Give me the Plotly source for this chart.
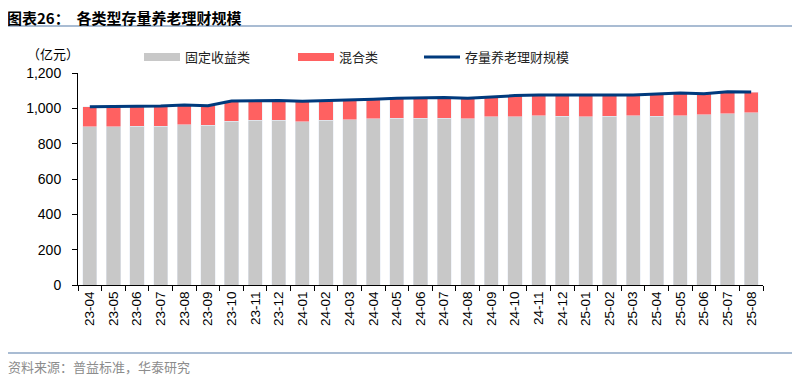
import plotly.graph_objects as go

categories = ["23-04","23-05","23-06","23-07","23-08","23-09","23-10","23-11","23-12",
              "24-01","24-02","24-03","24-04","24-05","24-06","24-07","24-08","24-09",
              "24-10","24-11","24-12","25-01","25-02","25-03","25-04","25-05","25-06",
              "25-07","25-08"]
fixed_income = [896, 896, 898, 900, 906, 904, 928, 932, 932, 925, 932, 934, 940, 945, 945,
                945, 941, 951, 953, 957, 955, 953, 955, 957, 955, 958, 964, 968, 974]
total_scale = [1009, 1009, 1011, 1013, 1019, 1015, 1042, 1045, 1045, 1040, 1043, 1047, 1051, 1057, 1060,
               1062, 1057, 1066, 1072, 1075, 1075, 1075, 1075, 1075, 1081, 1087, 1083, 1094, 1092]
mixed = [t - f for t, f in zip(total_scale, fixed_income)]

GREY = "#C8C8C8"
RED = "#FF6161"
NAVY = "#003A7D"
FONT = "Liberation Sans, Arial, sans-serif"
CJK = "Noto Sans CJK SC, sans-serif"

fig = go.Figure()
fig.add_trace(go.Bar(x=categories, y=fixed_income, marker_color=GREY, name="固定收益类", showlegend=False))
fig.add_trace(go.Bar(x=categories, y=mixed, marker_color=RED, name="混合类", showlegend=False))
fig.add_trace(go.Scatter(x=categories, y=total_scale, mode="lines", line=dict(color=NAVY, width=3),
                         name="存量养老理财规模", showlegend=False))

# legend-only entries
fig.add_trace(go.Scatter(x=[categories[0]], y=[None], mode="lines", line=dict(color=GREY, width=8),
                         name="固定收益类", legend="legend"))
fig.add_trace(go.Scatter(x=[categories[0]], y=[None], mode="lines", line=dict(color=RED, width=8),
                         name="混合类", legend="legend2"))
fig.add_trace(go.Scatter(x=[categories[0]], y=[None], mode="lines", line=dict(color=NAVY, width=3),
                         name="存量养老理财规模", legend="legend3"))

OFF = 8  # page body margin offset
W, H = 800 - OFF, 378 - OFF
# plot area in screen coordinates
PL, PR, PT, PB = 78, 763, 73, 285
L = PL - OFF
T = PT - OFF
R = W - (PR - OFF)
B = H - (PB - OFF)
pw = PR - PL
ph = PB - PT

def px_x(p):
    return (p - PL) / pw

def px_y(p):
    return (PB - p) / ph

leg_common = dict(orientation="h", xanchor="left", yanchor="middle", bgcolor="rgba(0,0,0,0)",
                  itemwidth=36, font=dict(family=CJK, size=13, color="#222"))

fig.update_layout(
    width=W, height=H,
    margin=dict(l=L, r=R, t=T, b=B),
    plot_bgcolor="white", paper_bgcolor="white",
    barmode="stack", bargap=0.4,
    font=dict(family=FONT, size=13, color="#000"),
    legend=dict(x=px_x(139), y=px_y(57), **leg_common),
    legend2=dict(x=px_x(293), y=px_y(57), **leg_common),
    legend3=dict(x=px_x(419), y=px_y(57), **leg_common),
    xaxis=dict(type="category", tickangle=-90, showline=True, linecolor="#000", linewidth=1,
               ticks="outside", ticklen=5, tickcolor="#000", tickson="boundaries",
               tickfont=dict(family=FONT, size=13.5, color="#000"), showgrid=False),
    yaxis=dict(range=[0, 1200], dtick=200, tickformat=",", showline=True, linecolor="#000",
               linewidth=1, ticks="outside", ticklen=5, tickcolor="#000", showgrid=False,
               zeroline=False, ticklabelstandoff=8,
               tickfont=dict(family=FONT, size=14, color="#000")),
    showlegend=True,
)

fig.add_annotation(text="<b>图表26：  各类型存量养老理财规模</b>", xref="paper", yref="paper",
                   x=px_x(6), y=px_y(18), xanchor="left", yanchor="middle", showarrow=False,
                   borderpad=0, font=dict(family=CJK, size=15, color="#000"))
fig.add_annotation(text="（亿元）", xref="paper", yref="paper", x=px_x(81), y=px_y(53),
                   xanchor="right", yanchor="middle", showarrow=False,
                   font=dict(family=CJK, size=13, color="#000"))
fig.add_annotation(text="资料来源：普益标准，华泰研究", xref="paper", yref="paper",
                   x=px_x(6), y=px_y(366), xanchor="left", yanchor="middle", showarrow=False,
                   font=dict(family=CJK, size=13, color="#8C8C8C"))
fig.add_shape(type="line", xref="paper", yref="paper", x0=px_x(OFF), x1=px_x(800),
              y0=px_y(26), y1=px_y(26), line=dict(color="#A9BCD3", width=2))
fig.add_shape(type="line", xref="paper", yref="paper", x0=px_x(OFF), x1=px_x(800),
              y0=px_y(353), y1=px_y(353), line=dict(color="#A9BCD3", width=2))

fig.write_html("out.html")
